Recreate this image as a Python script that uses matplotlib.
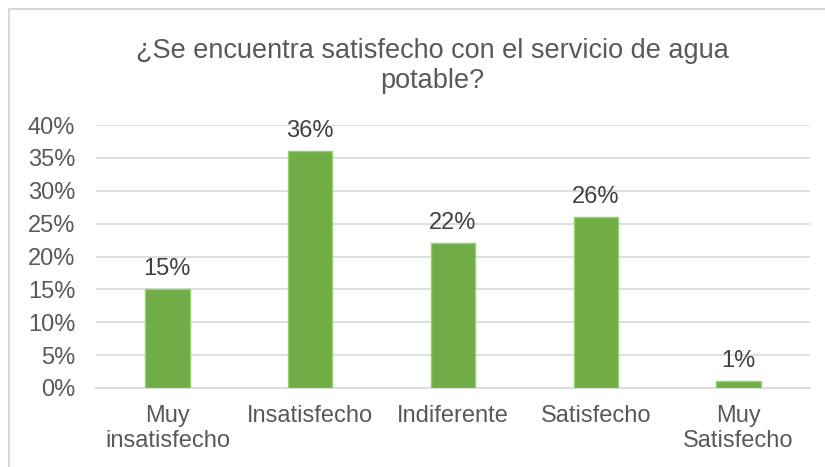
import matplotlib.pyplot as plt
from matplotlib.patches import Rectangle

categories = ['Muy\ninsatisfecho', 'Insatisfecho', 'Indiferente', 'Satisfecho', 'Muy\nSatisfecho']
values = [15, 36, 22, 26, 1]
labels = ['15%', '36%', '22%', '26%', '1%']
yticks = [0, 5, 10, 15, 20, 25, 30, 35, 40]

plt.rcParams['font.family'] = ['Liberation Sans', 'DejaVu Sans']

fig = plt.figure(figsize=(8.25, 4.67), dpi=100)
ax = fig.add_axes([96 / 825, 1 - 388 / 467, (810 - 96) / 825, (388 - 125) / 467])

# chart border
fig.patches.append(Rectangle((9 / 825, -0.05), 1.1, 1 - 9 / 467 + 0.05, transform=fig.transFigure,
                             fill=False, edgecolor='#d9d9d9', linewidth=1.5))

x = range(len(categories))
ax.bar(x, values, width=0.31, color='#70AD47', edgecolor='#8fd36a', linewidth=1, zorder=3)
for i, v in enumerate(values):
    ax.text(i, v + 1.4, labels[i], ha='center', va='bottom', fontsize=17, color='#404040')

ax.set_xlim(-0.5, len(categories) - 0.5)
ax.set_ylim(0, 40)
ax.set_yticks(yticks)
ax.set_yticklabels([f'{t}%' for t in yticks])
ax.set_xticks(list(x))
ax.set_xticklabels(categories, linespacing=1.2)
ax.tick_params(axis='both', length=0, labelsize=17, labelcolor='#595959')
ax.tick_params(axis='y', pad=15)
ax.tick_params(axis='x', pad=12)
ax.grid(axis='y', color='#d9d9d9', linewidth=1.2, zorder=0)
for s in ['top', 'right', 'left']:
    ax.spines[s].set_visible(False)
ax.spines['bottom'].set_color('#d9d9d9')
ax.spines['bottom'].set_linewidth(1.2)

fig.text(432 / 825, 1 - 66 / 467, '¿Se encuentra satisfecho con el servicio de agua\npotable?',
         ha='center', va='center', fontsize=19.5, color='#595959', linespacing=1.22)

fig.savefig('out.png', dpi=100)
